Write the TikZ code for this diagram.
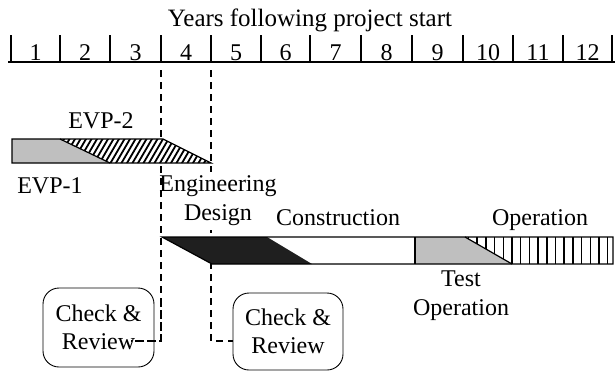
\documentclass[tikz,border=0pt]{standalone}
\usepackage{fontspec}
\setmainfont{Liberation Serif}
\begin{document}
\begin{tikzpicture}[x=1pt,y=-1pt,
  txt/.style={font=\fontsize{24}{29}\selectfont, inner sep=0pt, anchor=base},
  mtxt/.style={font=\fontsize{24}{29}\selectfont, inner sep=0pt, align=center},
  rule/.style={line width=1.3pt},
  barline/.style={line width=1.2pt},
  dline/.style={line width=1.3pt, dash pattern=on 7pt off 5pt},
  chkbox/.style={draw, line width=0.9pt, rounded corners=16pt, align=center,
    font=\fontsize{24}{28}\selectfont, inner sep=0pt},
  grayfill/.style={fill=black!25}]
\useasboundingbox (0,0) rectangle (615,373);

% title and year axis
\node[txt, font=\fontsize{25}{29}\selectfont] (title) at (310,26) {Years following project start};
\draw[rule] (8,62) -- (615,62);
\foreach \x in {11,60,110,161,211,261,310,361,412,463,513,563,612}
  \draw[rule] (\x,35) -- (\x,62);
\foreach \n/\x in {1/35.5,2/85,3/135.5,4/186,5/236,6/285.5,7/335.5,8/386.5,9/437.5,10/488,11/538,12/587.5}
  \node[txt] (y\n) at (\x,60) {\n};

% milestone guides
\coordinate (g1) at (161,70);
\coordinate (g2) at (211,70);
\coordinate (r1) at (131,341);
\coordinate (r2) at (233,341);

\draw[dline] (g2) |- (r2);

% Engineering design label (white background hides the guide)
\node[mtxt, fill=white, inner ysep=4pt, inner xsep=1pt] (eng) at (218,201) {Engineering\\Design};

\draw[dline] (g1) |- (r1);

% EVP bar
\fill[grayfill] (12,139) -- (60,139) -- (110,163) -- (12,163) -- cycle;
\fill[white] (60,139) -- (163,139) -- (211,163) -- (110,163) -- cycle;
\begin{scope}
  \clip (60,139) -- (163,139) -- (211,163) -- (110,163) -- cycle;
  \foreach \x in {30,35.5,...,220}
    \draw[line width=1.8pt] (\x,169) -- (\x+21,133);
\end{scope}
\draw[barline] (12,139) -- (163,139) -- (211,163) -- (12,163) -- cycle;
\draw[barline] (60,139) -- (110,163);

% lower bar
\fill[white] (162,237) -- (613,237) -- (613,264) -- (212,264) -- cycle;
\fill[black!88] (162,237) -- (267,237) -- (312,264) -- (212,264) -- cycle;
\fill[grayfill] (415,237) -- (465,237) -- (512,264) -- (415,264) -- cycle;
\begin{scope}
  \clip (465,237) -- (613,237) -- (613,264) -- (512,264) -- cycle;
  \foreach \x in {468.5,477.2,...,612}
    \draw[line width=1.5pt] (\x,237) -- (\x,264);
\end{scope}
\draw[barline] (162,237) -- (613,237) -- (613,264) -- (212,264) -- cycle;
\draw[barline] (415,237) -- (415,264);
\draw[barline] (465,237) -- (512,264);

% labels
\node[txt] (evp2) at (101,128) {EVP-2};
\node[txt] (evp1) at (50,193) {EVP-1};
\node[txt] (constr) at (338,225) {Construction};
\node[txt] (oper) at (540,225) {Operation};
\node[mtxt] (test) at (461,296) {Test\\Operation};

% check boxes
\node[chkbox, minimum width=111pt, minimum height=79pt] (chk1) at (98.5,327.5) {Check \&\\Review};
\node[chkbox, minimum width=110pt, minimum height=77pt] (chk2) at (288,331.5) {Check \&\\Review};

\draw[dline] (161,300) -- (161,341) -- (r1);
\end{tikzpicture}
\end{document}
